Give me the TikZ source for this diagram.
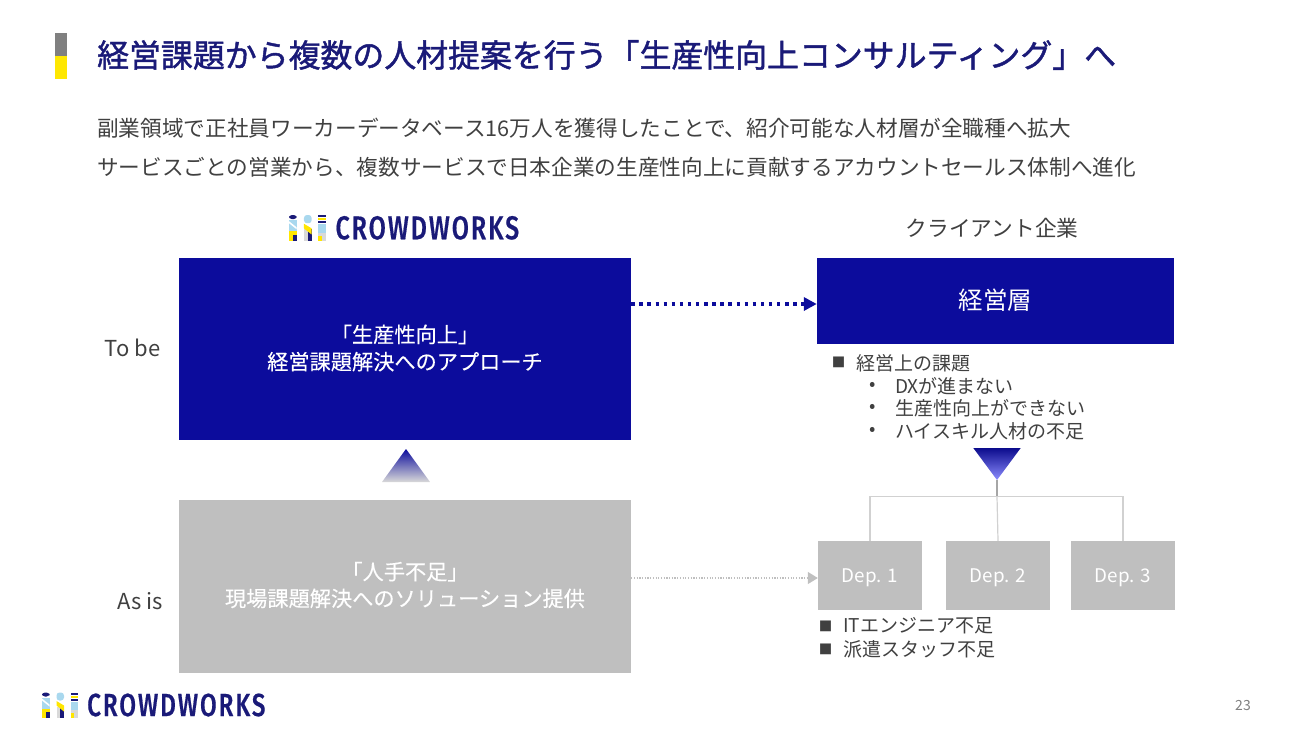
\documentclass[tikz,border=0pt]{standalone}
\usepackage{fontspec}
\setmainfont{Noto Sans CJK JP}
\newfontfamily\medfont[FakeBold=0.25]{Noto Sans CJK JP}
\newfontfamily\titlefont[FakeBold=1.4]{Noto Sans CJK JP}
\newfontfamily\logofont[FakeStretch=0.757,LetterSpace=6,FakeBold=0.5]{Fira Sans Medium}
\usetikzlibrary{arrows.meta}
\definecolor{navy}{HTML}{1A1A78}
\definecolor{boxblue}{HTML}{0C0C9C}
\definecolor{boxgray}{HTML}{BFBFBF}
\definecolor{bodygray}{HTML}{404040}
\definecolor{logoblue}{HTML}{A9D8EE}
\definecolor{logoyellow}{HTML}{FFE600}
\definecolor{logogray}{HTML}{D9D9D9}
\tikzset{
	px/.style={font=\fontsize{#1}{#1}\selectfont},
	plain/.style={inner sep=0pt, text=bodygray},
	listtext/.style={plain, anchor=west, px=19},
	listmark/.style={plain, px=13.5},
	bluebox/.style={fill=boxblue, inner sep=0pt, text=white, align=center},
	graybox/.style={fill=boxgray, inner sep=0pt, text=white, align=center},
	boxtext/.style={inner sep=0pt, text=white, align=center, px=21.2},
	depbox/.style={graybox, minimum width=104pt, minimum height=69pt, px=18.8, text height=14pt, text depth=0pt},
	treeline/.style={draw=black!18, line width=1.2pt}
}
\newcommand{\logomark}[3]{%
	\begin{scope}[shift={(#1,#2)}, scale=#3, transform shape]
		\fill[navy, rounded corners=3pt] (0, 4) -- (0, 0) -- (7.5, 0) -- (7.5, 4) -- cycle;
		\fill[logoblue, rounded corners=3pt] (14.5, 8) -- (14.5, 0) -- (22, 0) -- (22, 8) -- cycle;
		\foreach \xl/\xr/\ytop/\ybot/\shadecol in {0/7.5/5/16/logoblue, 0/7.5/16/25/logoyellow, 4/7.5/19/25/navy,
			14.5/22/14/25/logogray, 18/22/14/25/navy,
			28.5/36/0/2/navy, 28.5/36/3/5/logoyellow, 28.5/36/6/8/navy, 28.5/36/9/17/logoblue, 28.5/36/17/25/logogray, 28.5/32/20/25/logoyellow}
			\fill[\shadecol] (\xl, \ytop) rectangle (\xr, \ybot);
		\fill[white] (0, 6) -- (7.5, 12) -- (7.5, 14) -- (0, 8) -- cycle;
		\fill[logoyellow] (14.5, 8.5) -- (22, 13) -- (22, 19) -- (14.5, 13) -- cycle;
		\node[inner sep=0pt, anchor=west, text=navy, transform shape] (logotext) at (45, 12.5) {\logofont\fontsize{32}{32}\selectfont CROWDWORKS};
	\end{scope}
}
\begin{document}
\begin{tikzpicture}[x=1pt, y=-1pt]
	\useasboundingbox (0, 0) rectangle (1300, 731);

	% heading
	\fill[black!50] (54.5, 33) rectangle (66.5, 56);
	\fill[yellow!95!red] (54.5, 56) rectangle (66.5, 79);
	\node[inner sep=0pt, anchor=west, text=navy, px=31.9] (heading) at (97, 55) {\titlefont 経営課題から複数の人材提案を行う「生産性向上コンサルティング」へ};
	\node[plain, anchor=west, px=21.65] (leadone) at (97, 128) {副業領域で正社員ワーカーデータベース16万人を獲得したことで、紹介可能な人材層が全職種へ拡大};
	\node[plain, anchor=west, px=21.65] (leadtwo) at (97, 167) {サービスごとの営業から、複数サービスで日本企業の生産性向上に貢献するアカウントセールス体制へ進化};

	% left column
	\logomark{289}{215}{1.03}
	\node[bluebox, minimum width=452pt, minimum height=182pt] (tobe) at (405, 349) {};
	\node[boxtext] (tobetext) at ([yshift=1pt]tobe.center) {\medfont 「生産性向上」\\[6pt]\medfont 経営課題解決へのアプローチ};
	\node[graybox, minimum width=452pt, minimum height=173pt] (asis) at (405, 586.5) {};
	\node[boxtext] (asistext) at ([yshift=1.5pt]asis.center) {\medfont 「人手不足」\\[5.5pt]\medfont 現場課題解決へのソリューション提供};
	\node[plain, anchor=east, px=22] (tobelabel) at (160.5, 348) {To be};
	\node[plain, anchor=east, px=22] (asislabel) at (163, 601) {As is};
	\shade[top color=boxblue, middle color=blue!60!white, bottom color=logogray] (406, 449) -- (430, 482) -- (382, 482) -- cycle;

	% right column
	\node[plain, px=21.7] (client) at (992, 228) {クライアント企業};
	\node[bluebox, minimum width=357pt, minimum height=86pt, px=24.5] (board) at (995.5, 300.5) {経営層};
	\node[listmark] (issuemark) at (838.5, 362) {■};
	\node[listtext] (issue) at (856, 363) {経営上の課題};
	\foreach \y/\ytext in {386/DXが進まない, 408/生産性向上ができない, 431/ハイスキル人材の不足}
		\node[listtext] at (895, \y) {\ytext}
		(873, \y) node[plain, px=18.8] {•};

	\shade[top color=boxblue!90!black, bottom color=blue!45!white] (973.3, 448) -- (1020.7, 448) -- (997, 480) -- cycle;
	\coordinate (apex) at (997, 480);
	\coordinate (hub) at (997, 496.5);

	\foreach \depname/\depx/\deptext in {depone/870/Dep. 1, deptwo/998/Dep. 2, depthree/1123/Dep. 3}
		\node[depbox] (\depname) at (\depx, 575.5) {\deptext};

	\draw[treeline, draw=black!35] (apex) -- (hub);
	\draw[treeline] (depone.north) |- (hub);
	\draw[treeline] (depthree.north) |- (hub);
	\draw[treeline] (deptwo.north) -- (hub);

	\foreach \y/\ytext in {626/ITエンジニア不足, 649/派遣スタッフ不足}
		\node[listtext] at (843, \y) {\ytext}
		(825.5, \y) node[listmark] {■};

	% dotted arrows
	\draw[boxblue, line width=3.4pt, dash pattern=on 3.4pt off 4.7pt, -{Triangle[length=13pt, width=13pt, sep=0pt]}] ([yshift=-3.5pt]tobe.east |- board.west) -- ([yshift=-3.5pt]board.west);
	\draw[boxgray, line width=1.2pt, dash pattern=on 1.2pt off 1.5pt, -{Triangle[length=10pt, width=12pt]}] ([yshift=-2.5pt]asis.east |- depone.west) -- ([yshift=-2.5pt]depone.west);

	% footer
	\logomark{42}{692.5}{1}
	\node[inner sep=0pt, text=black!50, px=14] (pagenum) at (1243, 705) {23};
\end{tikzpicture}
\end{document}
